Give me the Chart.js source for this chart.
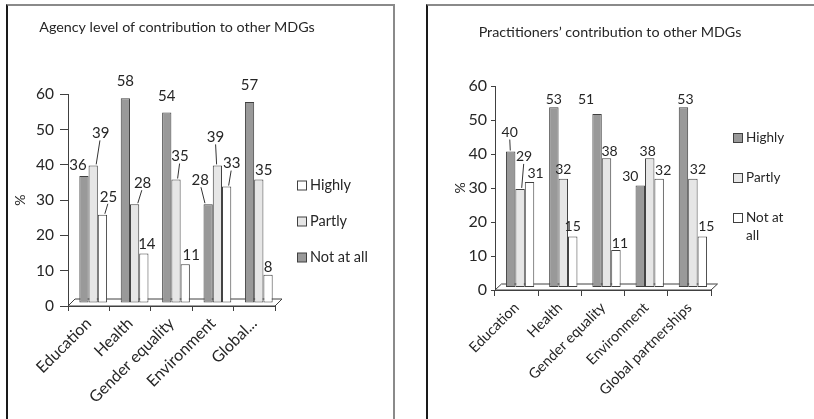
<!DOCTYPE html>
<html><head><meta charset="utf-8">
<script src="https://cdn.jsdelivr.net/npm/chart.js@4/dist/chart.umd.min.js"></script>
<style>
html,body{margin:0;padding:0;background:#fff;}
body{width:814px;height:419px;position:relative;overflow:hidden;}
.box{position:absolute;box-sizing:border-box;border-top:2px solid #8a8a8a;border-right:2px solid #8a8a8a;border-left:2px solid #1a1a1a;}
#b1{left:6px;top:4px;width:389px;height:430px;}
#b2{left:426px;top:4px;width:400px;height:430px;}
canvas{position:absolute;top:0;}
#c1{left:0;} #c2{left:410px;}
</style></head>
<body>
<div class="box" id="b1"></div>
<div class="box" id="b2"></div>
<canvas id="c1" width="410" height="419"></canvas>
<canvas id="c2" width="404" height="419"></canvas>
<script>
// ---- data ----
const categoriesAgency = ['Education', 'Health', 'Gender equality', 'Environment', 'Global...'];
const categoriesPract = ['Education', 'Health', 'Gender equality', 'Environment', 'Global partnerships'];
const agencyNotAtAll = [36, 58, 54, 28, 57];
const agencyPartly = [39, 28, 35, 39, 35];
const agencyHighly = [25, 14, 11, 33, 8];
const practHighly = [40, 53, 51, 30, 53];
const practPartly = [29, 32, 38, 38, 32];
const practNotAtAll = [31, 15, 11, 32, 15];
const yTicks = [0, 10, 20, 30, 40, 50, 60];
const titleAgency = 'Agency level of contribution to other MDGs';
const titlePract = 'Practitioners\u2019 contribution to other MDGs';

// ---- styles ----
const DARK = '#999999', LIGHT = '#e6e6e6', WHITE = '#ffffff', EDGE = '#404040', TXT = '#262626';
const FAM = 'Lato, "Liberation Sans", sans-serif';
Chart.defaults.font.family = FAM;
Chart.defaults.font.size = 13;
Chart.defaults.color = TXT;

const mdgPlugin = {
  id: 'mdg',
  beforeDatasetsDraw(chart, args, o) {
    const ctx = chart.ctx, a = chart.chartArea;
    ctx.save();
    ctx.beginPath();
    ctx.moveTo(a.left, a.bottom);
    ctx.lineTo(a.right, a.bottom);
    ctx.lineTo(a.right + o.floor[0], a.bottom - o.floor[1]);
    ctx.lineTo(a.left + o.floor[0], a.bottom - o.floor[1]);
    ctx.closePath();
    ctx.fillStyle = '#fff';
    ctx.fill();
    ctx.strokeStyle = EDGE;
    ctx.lineWidth = 1;
    ctx.stroke();
    ctx.restore();
    ctx.save();
    ctx.translate(o.shift[0], o.shift[1]);
  },
  afterDatasetsDraw(chart, args, o) {
    const ctx = chart.ctx;
    ctx.restore();
    ctx.save();
    ctx.font = o.labelSize + 'px ' + FAM;
    ctx.fillStyle = TXT;
    ctx.textAlign = 'center';
    ctx.textBaseline = 'middle';
    chart.data.datasets.forEach((ds, di) => {
      const meta = chart.getDatasetMeta(di);
      meta.data.forEach((el, i) => {
        const cx = el.x + o.shift[0], top = el.y + o.shift[1];
        const off = o.labelOffsets[di][i];
        const lx = cx + off[0], ly = top + off[1];
        ctx.fillText(String(ds.data[i]), lx, ly);
        if (off[2]) {
          ctx.beginPath();
          ctx.strokeStyle = '#333';
          ctx.lineWidth = 1;
          ctx.moveTo(lx - off[0] * 0.1, ly + 7);
          ctx.lineTo(cx + off[0] * 0.4, top - 1);
          ctx.stroke();
        }
      });
    });
    ctx.restore();
  },
  afterDraw(chart, args, o) {
    const ctx = chart.ctx;
    ctx.save();
    ctx.fillStyle = TXT;
    ctx.font = o.titleSize + 'px ' + FAM;
    ctx.textAlign = 'center';
    ctx.textBaseline = 'middle';
    ctx.fillText(o.title, o.titlePos[0], o.titlePos[1]);
    // legend
    ctx.font = o.legendSize + 'px ' + FAM;
    ctx.textAlign = 'left';
    let order = chart.data.datasets.map((d, i) => i);
    if (o.legendReverse) order.reverse();
    order.forEach((di, k) => {
      const ds = chart.data.datasets[di];
      const y = o.legendPos[1] + k * o.legendGap;
      const x = o.legendPos[0];
      ctx.fillStyle = ds.backgroundColor;
      ctx.fillRect(x + 0.5, y - 4.5, 9, 9);
      ctx.strokeStyle = EDGE;
      ctx.lineWidth = 1;
      ctx.strokeRect(x + 0.5, y - 4.5, 9, 9);
      ctx.fillStyle = TXT;
      const words = ds.label.split(' ');
      const lines = [];
      let cur = '';
      words.forEach(w => {
        const t = cur ? cur + ' ' + w : w;
        if (cur && ctx.measureText(t).width > o.legendMaxWidth) { lines.push(cur); cur = w; }
        else cur = t;
      });
      lines.push(cur);
      lines.forEach((ln, j) => ctx.fillText(ln, x + 13, y + j * 18));
    });
    ctx.restore();
  }
};

function makeChart(id, cats, datasets, cfg) {
  return new Chart(document.getElementById(id), {
    type: 'bar',
    data: { labels: cats, datasets: datasets },
    plugins: [mdgPlugin],
    options: {
      responsive: false,
      animation: false,
      layout: { padding: { left: 0, right: cfg.padRight, top: cfg.top, bottom: 0 } },
      plugins: {
        legend: { display: false },
        tooltip: { enabled: false },
        mdg: cfg.mdg
      },
      datasets: { bar: { categoryPercentage: cfg.catPct, barPercentage: 1, borderWidth: 1, borderColor: EDGE, borderSkipped: false } },
      scales: {
        x: {
          grid: { drawOnChartArea: false, tickLength: cfg.xTick, color: EDGE, offset: true },
          border: { display: true, color: EDGE, width: 1 },
          ticks: { minRotation: 45, maxRotation: 45, autoSkip: false, padding: cfg.xPad, color: TXT, font: { size: cfg.xSize } },
          afterFit: s => { s.height = cfg.xHeight; }
        },
        y: {
          min: 0, max: 60,
          afterBuildTicks: s => { s.ticks = yTicks.map(v => ({ value: v })); },
          grid: { drawOnChartArea: false, tickLength: cfg.yTick, color: EDGE },
          border: { display: true, color: EDGE, width: 1 },
          ticks: { padding: cfg.yPad, color: TXT, font: { size: cfg.ySize } },
          title: { display: true, text: '%', font: { size: 14 }, padding: { top: cfg.pctPad, bottom: 0 }, color: TXT },
          afterFit: s => { s.width = cfg.yWidth; }
        }
      }
    }
  });
}

makeChart('c1', categoriesAgency, [
  { label: 'Not at all', data: agencyNotAtAll, backgroundColor: DARK },
  { label: 'Partly', data: agencyPartly, backgroundColor: LIGHT },
  { label: 'Highly', data: agencyHighly, backgroundColor: WHITE }
], {
  padRight: 135, top: 94.3, xHeight: 113, yWidth: 68, catPct: 0.67,
  xTick: 5, xPad: 3, xSize: 16, yTick: 8, yPad: 6, ySize: 15.5, pctPad: 12,
  mdg: {
    title: titleAgency, titlePos: [177, 27], titleSize: 14.3,
    legendPos: [297, 185.5], legendGap: 36, legendReverse: true, legendMaxWidth: 200, legendSize: 14.5,
    labelSize: 15,
    shift: [4.5, -3], floor: [7, 7],
    labelOffsets: [
      [[-6, -11], [0, -17], [0, -16], [-8, -24, 1], [0, -17]],
      [[7.5, -32, 1], [8, -21, 1], [4, -23, 1], [-2, -28, 1], [5, -9]],
      [[6, -18, 1], [3, -9], [6, -9], [5, -23, 1], [0, -8]]
    ]
  }
});

makeChart('c2', categoriesPract, [
  { label: 'Highly', data: practHighly, backgroundColor: DARK },
  { label: 'Partly', data: practPartly, backgroundColor: LIGHT },
  { label: 'Not at all', data: practNotAtAll, backgroundColor: WHITE }
], {
  padRight: 404 - 301, top: 86, xHeight: 419 - 290, yWidth: 85, catPct: 0.655,
  xTick: 6, xPad: 3, xSize: 14.5, yTick: 4, yPad: 4, ySize: 16, pctPad: 42,
  mdg: {
    title: titlePract, titlePos: [200, 32], titleSize: 14.3,
    legendPos: [323, 138], legendGap: 40, legendReverse: false, legendMaxWidth: 48, legendSize: 13.5,
    labelSize: 14,
    shift: [3.5, -2.5], floor: [6.5, 6],
    labelOffsets: [
      [[-1, -19, 1], [0, -8], [-11, -15], [-10, -9], [2, -8]],
      [[4, -32, 1], [0, -9], [3, -7], [-2, -7], [5, -9]],
      [[6, -9], [0, -10], [4, -7], [4, -8], [4, -10]]
    ]
  }
});
</script>
</body></html>
